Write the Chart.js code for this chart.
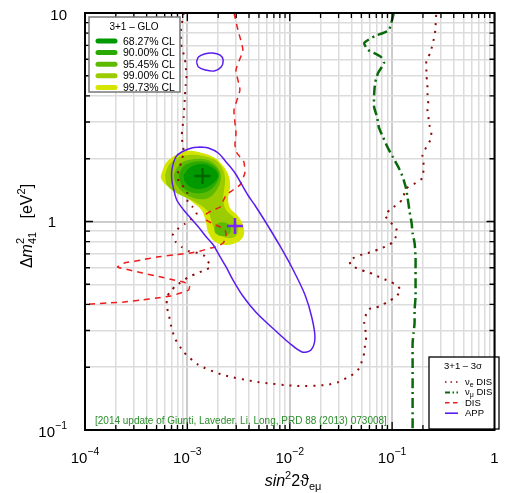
<!DOCTYPE html>
<html><head><meta charset="utf-8">
<script src="https://cdn.jsdelivr.net/npm/chart.js@4/dist/chart.umd.min.js"></script>
<style>html,body{margin:0;padding:0;background:#fff;overflow:hidden}</style>
</head><body>
<canvas id="c" width="505" height="493"></canvas>
<script>
// ---------------- DATA (sin^2 2theta, Delta m^2_41) ----------------
const xTickLabels = [[1e-4,'10','−4'],[1e-3,'10','−3'],[1e-2,'10','−2'],[1e-1,'10','−1'],[1,'1','']];
const yTickLabels = [[10,'10',''],[1,'1',''],[0.1,'10','−1']];

const glo6827 = [[9.20e-4,1.671],[1.075e-3,1.826],[1.435e-3,1.887],[1.831e-3,1.786],[2.001e-3,1.653],[1.752e-3,1.513],[1.372e-3,1.432],[1.075e-3,1.464],[9.41e-4,1.564],[9.20e-4,1.671]];
const glo9000 = [[8.235e-4,1.671],[9.20e-4,1.846],[1.149e-3,1.930],[1.500e-3,1.930],[1.872e-3,1.826],[2.046e-3,1.671],[1.872e-3,1.497],[1.533e-3,1.385],[1.149e-3,1.370],[9.20e-4,1.448],[8.419e-4,1.564],[8.235e-4,1.671]];
const glo9545 = [[7.371e-4,1.671],[8.235e-4,1.867],[1.028e-3,1.973],[1.435e-3,1.995],[1.791e-3,1.909],[2.092e-3,1.727],[2.092e-3,1.547],[1.872e-3,1.385],[1.603e-3,1.296],[1.283e-3,1.282],[9.835e-4,1.340],[8.235e-4,1.448],[7.536e-4,1.564],[7.371e-4,1.671]];
const glo9545b = [[1.831e-3,0.9307],[2.001e-3,0.9836],[2.389e-3,0.9836],[2.670e-3,0.9307],[2.554e-3,0.8711],[2.138e-3,0.8518],[1.872e-3,0.8808],[1.831e-3,0.9307]];
const glo9900 = [[6.035e-4,1.671],[6.596e-4,1.867],[7.876e-4,2.017],[1.028e-3,2.084],[1.435e-3,2.062],[1.872e-3,1.973],[2.187e-3,1.806],[2.337e-3,1.617],[2.286e-3,1.416],[2.236e-3,1.268],[2.389e-3,1.135],[2.854e-3,1.039],[3.119e-3,0.9307],[2.983e-3,0.8518],[2.498e-3,0.8334],[2.001e-3,0.8711],[1.752e-3,0.9728],[1.603e-3,1.110],[1.283e-3,1.213],[9.835e-4,1.296],[7.536e-4,1.385],[6.310e-4,1.497],[6.035e-4,1.671]];
const glo9973 = [[5.523e-4,1.671],[6.171e-4,1.909],[7.705e-4,2.084],[9.618e-4,2.178],[1.283e-3,2.154],[1.791e-3,2.039],[2.236e-3,1.846],[2.554e-3,1.635],[2.611e-3,1.448],[2.498e-3,1.296],[2.611e-3,1.161],[3.119e-3,1.063],[3.485e-3,0.9621],[3.563e-3,0.8615],[3.119e-3,0.7975],[2.389e-3,0.7715],[1.872e-3,0.7975],[1.603e-3,0.8808],[1.500e-3,1.017],[1.372e-3,1.135],[1.149e-3,1.227],[9.20e-4,1.325],[7.371e-4,1.416],[6.035e-4,1.513],[5.523e-4,1.617],[5.523e-4,1.671]];

const appMain = [[1.342e-3,2.276],[1.603e-3,2.251],[2.001e-3,2.131],[2.389e-3,1.930],[2.918e-3,1.709],[3.334e-3,1.530],[3.894e-3,1.340],[4.549e-3,1.200],[5.806e-3,0.9945],[7.922e-3,0.7715],[1.081e-2,0.5854],[1.411e-2,0.4442],[1.648e-2,0.3445],[1.762e-2,0.2762],[1.612e-2,0.2419],[1.320e-2,0.2367],[9.89e-3,0.2614],[6.782e-3,0.3086],[4.651e-3,0.3681],[3.485e-3,0.4393],[2.792e-3,0.5241],[2.389e-3,0.6051],[2.092e-3,0.6757],[1.791e-3,0.7715],[1.533e-3,0.8427],[1.283e-3,0.9411],[1.075e-3,1.039],[9.202e-4,1.135],[7.876e-4,1.268],[7.371e-4,1.416],[7.051e-4,1.581],[7.051e-4,1.766],[7.705e-4,2.039],[8.802e-4,2.154],[1.099e-3,2.251],[1.342e-3,2.276]];
const appSmall = [[1.228e-3,5.821],[1.283e-3,6.151],[1.467e-3,6.358],[1.752e-3,6.429],[2.092e-3,6.288],[2.236e-3,5.951],[2.138e-3,5.508],[1.831e-3,5.271],[1.500e-3,5.329],[1.283e-3,5.508],[1.228e-3,5.821]];

const disAll = [[2.854e-3,10],[3.119e-3,8.288],[3.485e-3,6.646],[2.983e-3,5.329],[3.260e-3,4.272],[2.854e-3,3.425],[2.983e-3,2.657],[2.918e-3,2.327],[3.050e-3,2.131],[3.563e-3,1.930],[3.643e-3,1.709],[3.260e-3,1.497],[2.792e-3,1.416],[2.389e-3,1.340],[2.236e-3,1.254],[2.092e-3,1.174],[1.791e-3,1.135],[1.533e-3,1.086],[1.533e-3,1.017],[1.791e-3,0.9728],[2.092e-3,0.9411],[2.337e-3,0.9104],[2.389e-3,0.8427],[2.236e-3,0.7887],[1.914e-3,0.7546],[1.676e-3,0.7463],[1.342e-3,0.7220],[1.075e-3,0.7062],[7.371e-4,0.6908],[5.054e-4,0.6757],[3.543e-4,0.6537],[2.430e-4,0.6324],[2.080e-4,0.6051],[2.715e-4,0.5854],[3.623e-4,0.5663],[5.523e-4,0.5418],[7.371e-4,0.5241],[9.202e-4,0.5126],[1.051e-3,0.4905],[1.028e-3,0.4693],[8.608e-4,0.4541],[6.897e-4,0.4393],[5.054e-4,0.4297],[3.543e-4,0.4203],[2.430e-4,0.4111],[1.666e-4,0.4066],[1.168e-4,0.4021],[1e-4,0.4021]];

const nueDis = [[9.202e-4,10],[8.802e-4,8.759],[8.608e-4,8.018],[8.802e-4,6.795],[9.408e-4,6.151],[9.618e-4,5.508],[9.835e-4,5.044],[9.618e-4,4.515],[9.408e-4,3.826],[9.202e-4,3.171],[8.802e-4,2.571],[8.999e-4,2.353],[9.202e-4,2.154],[8.802e-4,1.973],[8.419e-4,1.826],[8.054e-4,1.690],[8.235e-4,1.547],[9.408e-4,1.448],[1.006e-3,1.355],[1.006e-3,1.240],[1.124e-3,1.174],[1.228e-3,1.086],[9.408e-4,0.9728],[8.054e-4,0.9205],[7.209e-4,0.8615],[7.705e-4,0.7975],[8.802e-4,0.7546],[1.028e-3,0.7220],[1.255e-3,0.7062],[1.467e-3,0.6832],[1.676e-3,0.6051],[1.403e-3,0.5790],[1.201e-3,0.5601],[1.028e-3,0.5418],[7.705e-4,0.4905],[6.744e-4,0.4591],[6.310e-4,0.4297],[6.310e-4,0.3890],[6.596e-4,0.3561],[6.897e-4,0.3189],[7.536e-4,0.2762],[9.202e-4,0.2367],[1.283e-3,0.2050],[2.236e-3,0.1836],[4.862e-3,0.1699],[1.181e-2,0.1626],[2.298e-2,0.1644],[3.000e-2,0.1699],[3.584e-2,0.1776],[4.186e-2,0.1856],[4.782e-2,0.1983],[5.110e-2,0.2167],[5.342e-2,0.2341],[5.462e-2,0.2614],[5.585e-2,0.2793],[5.462e-2,0.3052],[5.342e-2,0.3296],[5.585e-2,0.3600],[5.969e-2,0.3805],[6.819e-2,0.3847],[7.967e-2,0.3977],[9.306e-2,0.4157],[1.087e-1,0.4345],[1.214e-1,0.4693],[1.087e-1,0.4959],[9.306e-2,0.5183],[7.792e-2,0.5358],[6.523e-2,0.5601],[5.585e-2,0.5726],[4.782e-2,0.5919],[4.004e-2,0.6118],[3.830e-2,0.6537],[4.473e-2,0.6757],[5.225e-2,0.6985],[6.380e-2,0.7141],[7.452e-2,0.7381],[8.903e-2,0.7630],[1.017e-1,0.7975],[1.111e-1,0.8711],[1.087e-1,0.9411],[9.513e-2,0.9945],[8.514e-2,1.074],[9.727e-2,1.148],[1.136e-1,1.213],[1.270e-1,1.282],[1.357e-1,1.432],[1.694e-1,1.530],[1.979e-1,1.617],[2.023e-1,1.766],[2.023e-1,1.930],[1.979e-1,2.084],[2.162e-1,2.276],[2.363e-1,2.460],[2.416e-1,2.687],[2.312e-1,2.903],[2.261e-1,3.171],[2.211e-1,3.463],[2.261e-1,3.826],[2.211e-1,4.133],[2.211e-1,4.616],[2.162e-1,4.988],[2.162e-1,5.447],[2.162e-1,5.951],[2.363e-1,6.429],[2.471e-1,7.025],[2.582e-1,7.671],[2.641e-1,8.288],[2.700e-1,10]];

const numuDis = [[1.040e-1,10],[9.306e-2,8.288],[8.144e-2,8.018],[6.819e-2,7.757],[5.342e-2,7.178],[5.838e-2,6.646],[6.972e-2,6.358],[7.792e-2,6.151],[8.328e-2,5.757],[7.289e-2,5.156],[6.819e-2,4.616],[6.669e-2,4.043],[6.669e-2,3.540],[7.128e-2,3.171],[7.452e-2,2.809],[8.144e-2,2.542],[9.101e-2,2.251],[1.017e-1,2.039],[1.161e-1,1.806],[1.270e-1,1.635],[1.357e-1,1.464],[1.418e-1,1.296],[1.483e-1,1.110],[1.550e-1,0.9836],[1.585e-1,0.8808],[1.657e-1,0.7887],[1.694e-1,0.6757],[1.694e-1,0.5854],[1.694e-1,0.5070],[1.694e-1,0.4345],[1.657e-1,0.3763],[1.657e-1,0.3260],[1.620e-1,0.2919],[1.585e-1,0.2614],[1.585e-1,0.2167],[1.585e-1,0.1555],[1.585e-1,0.1]];

const bestFitGlo = [[1.403e-3,1.653]];
const bestFitApp = [[2.918e-3,0.9515]];

// ---------------- STYLE ----------------
const C = {c6827:'#009a00', c9000:'#2aaa00', c9545:'#5cba00', c9900:'#9acc00', c9973:'#d4e600',
  nue:'#8b0a0a', numu:'#0a6a0a', dis:'#ee1c1c', app:'#5a1cf0', cite:'#2a8c2a'};
const FONT = '"Liberation Sans", Arial, Helvetica, sans-serif';

const toXY = a => a.map(p => ({x:p[0], y:p[1]}));
function fillSet(data, color, order){
  return {data:toXY(data), borderWidth:0, borderColor:color, backgroundColor:color, fill:'shape', pointRadius:0, tension:0.35, order};
}
function lineSet(data, color, width, dash, order, tension){
  return {data:toXY(data), borderWidth:width, borderColor:color, borderDash:dash, fill:false, pointRadius:0, tension:tension, order, borderCapStyle:'butt'};
}

const xGrid=[]; for(let e=-4;e<0;e++) for(let m=1;m<10;m++) xGrid.push(m*Math.pow(10,e)); xGrid.push(1);
const yGrid=[]; for(let e=-1;e<1;e++) for(let m=1;m<10;m++) yGrid.push(m*Math.pow(10,e)); yGrid.push(10);
const isMajor = v => Math.abs(Math.log10(v)-Math.round(Math.log10(v)))<1e-6;

function rich(ctx, parts, x, y, align){
  let w=0;
  for(const p of parts){ ctx.font=(p.i?'italic ':'')+p.s+'px '+FONT; p.w=ctx.measureText(p.t).width; if(!p.stack) w+=p.w; }
  let sx = align==='center'? x-w/2 : align==='right'? x-w : x;
  for(const p of parts){ ctx.font=(p.i?'italic ':'')+p.s+'px '+FONT; ctx.fillText(p.t, sx, y+(p.dy||0)); if(!p.stack) sx+=p.w; }
}

const decor = {
  id:'decor',
  afterDatasetsDraw(chart){
    const {ctx, chartArea:a, scales:{x, y}} = chart;
    ctx.save();
    ctx.strokeStyle='#000'; ctx.lineWidth=1.3;
    for(const v of xGrid){ const px=x.getPixelForValue(v); const L=isMajor(v)?8:5;
      ctx.beginPath(); ctx.moveTo(px,a.bottom); ctx.lineTo(px,a.bottom-L); ctx.moveTo(px,a.top); ctx.lineTo(px,a.top+L); ctx.stroke(); }
    for(const v of yGrid){ const py=y.getPixelForValue(v); const L=isMajor(v)?8:5;
      ctx.beginPath(); ctx.moveTo(a.left,py); ctx.lineTo(a.left+L,py); ctx.moveTo(a.right,py); ctx.lineTo(a.right-L,py); ctx.stroke(); }
    ctx.fillStyle=C.cite; ctx.textBaseline='alphabetic';
    ctx.font='10px '+FONT; ctx.textAlign='left';
    ctx.fillText('[2014 update of Giunti, Laveder, Li, Long, PRD 88 (2013) 073008]', 95, 424);
    ctx.fillStyle='#fff'; ctx.fillRect(89,17,91,75);
    ctx.strokeStyle='#777'; ctx.lineWidth=1.5; ctx.strokeRect(89,17,91,75);
    ctx.fillStyle='#000'; ctx.font='10px '+FONT; ctx.textAlign='center';
    ctx.fillText('3+1 – GLO', 134, 30);
    const l1 = [['68.27% CL',C.c6827],['90.00% CL',C.c9000],['95.45% CL',C.c9545],['99.00% CL',C.c9900],['99.73% CL',C.c9973]];
    l1.forEach((e,i)=>{ const yy=41+i*11.6;
      ctx.strokeStyle=e[1]; ctx.lineWidth=5; ctx.lineCap='round'; ctx.beginPath(); ctx.moveTo(98,yy); ctx.lineTo(115,yy); ctx.stroke();
      ctx.fillStyle='#000'; ctx.textAlign='left'; ctx.font='10.5px '+FONT; ctx.fillText(e[0],123,yy+3.5); });
    ctx.lineCap='butt';
    ctx.fillStyle='#fff'; ctx.fillRect(429,357,70,72);
    ctx.strokeStyle='#000'; ctx.lineWidth=1.3; ctx.strokeRect(429,357,70,72);
    ctx.fillStyle='#000'; ctx.textAlign='left';
    rich(ctx,[{t:'3+1 – 3σ',s:9.5}],463,369,'center');
    const l2 = [[C.nue,[1.5,4],1.6],[C.numu,[5,2.5,1.5,2.5],2],[C.dis,[4.5,3.5],1.5],[C.app,[],1.6]];
    l2.forEach((e,i)=>{ const yy=382+i*10.4;
      ctx.strokeStyle=e[0]; ctx.lineWidth=e[2]; ctx.setLineDash(e[1]); ctx.beginPath(); ctx.moveTo(445,yy); ctx.lineTo(458,yy); ctx.stroke(); ctx.setLineDash([]); });
    ctx.fillStyle='#000';
    rich(ctx,[{t:'ν',s:9.5},{t:'e',s:7,dy:2},{t:' DIS',s:9.5}],465,385,'left');
    rich(ctx,[{t:'ν',s:9.5},{t:'μ',s:7,dy:2},{t:' DIS',s:9.5}],465,395.4,'left');
    rich(ctx,[{t:'DIS',s:9.5}],465,405.8,'left');
    rich(ctx,[{t:'APP',s:9.5}],465,416.2,'left');
    ctx.restore();
  },
  afterDraw(chart){
    const {ctx, chartArea:a, scales:{x, y}} = chart;
    ctx.save();
    ctx.strokeStyle='#000'; ctx.lineWidth=2; ctx.strokeRect(a.left,a.top,a.right-a.left,a.bottom-a.top);
    ctx.fillStyle='#000'; ctx.textBaseline='alphabetic';
    for(const t of xTickLabels){ const px=x.getPixelForValue(t[0]);
      const parts=[{t:t[1],s:15}]; if(t[2]) parts.push({t:t[2],s:10.5,dy:-8});
      rich(ctx,parts,px,463,'center'); }
    rich(ctx,[{t:yTickLabels[0][1],s:15}],67,20,'right');
    rich(ctx,[{t:yTickLabels[1][1],s:15}],52,227,'center');
    rich(ctx,[{t:yTickLabels[2][1],s:15},{t:yTickLabels[2][2],s:10.5,dy:-8}],67,437,'right');
    rich(ctx,[{t:'sin',s:16,i:true},{t:'2',s:11,dy:-7},{t:'2ϑ',s:16},{t:'eμ',s:11,dy:4}],293,486,'center');
    ctx.translate(32,226); ctx.rotate(-Math.PI/2);
    rich(ctx,[{t:'Δ',s:16},{t:'m',s:16,i:true},{t:'2',s:11,dy:-8,stack:true},{t:'41',s:11,dy:4},{t:'   [eV',s:16},{t:'2',s:11,dy:-7},{t:']',s:16}],0,0,'center');
    ctx.restore();
  }
};

const datasets = [
  lineSet(appMain, C.app, 1.5, [], 1, 0.3),
  lineSet(appSmall, C.app, 1.5, [], 1, 0.3),
  lineSet(disAll, C.dis, 1.5, [6,5], 2, 0.15),
  lineSet(nueDis, C.nue, 2, [2,6], 3, 0.2),
  lineSet(numuDis, C.numu, 2.5, [10,4,2,4], 3, 0.2),
  {type:'scatter', data:toXY(bestFitGlo), pointStyle:'cross', pointRadius:8, borderWidth:2.5, borderColor:'#006600', backgroundColor:'#006600', order:0},
  {type:'scatter', data:toXY(bestFitApp), pointStyle:'cross', pointRadius:8, borderWidth:2.5, borderColor:'#7a22ff', backgroundColor:'#7a22ff', order:0},
  fillSet(glo6827, C.c6827, 10),
  fillSet(glo9000, C.c9000, 11),
  fillSet(glo9545, C.c9545, 12),
  fillSet(glo9545b, C.c9545, 12),
  fillSet(glo9900, C.c9900, 13),
  fillSet(glo9973, C.c9973, 14)
];

new Chart(document.getElementById('c'), {
  type:'line',
  data:{datasets},
  options:{
    responsive:false, animation:false, devicePixelRatio:1,
    layout:{padding:{left:85,right:5,top:13,bottom:63}},
    plugins:{legend:{display:false}, tooltip:{enabled:false}},
    scales:{
      x:{type:'logarithmic', min:1e-4, max:1, ticks:{display:false},
         afterBuildTicks:s=>{s.ticks=xGrid.map(v=>({value:v}));},
         grid:{drawTicks:false, color:c=>isMajor(c.tick.value)?'#cccccc':'#dcdcdc', lineWidth:c=>isMajor(c.tick.value)?2:1.5},
         border:{display:false}},
      y:{type:'logarithmic', min:0.1, max:10, ticks:{display:false},
         afterBuildTicks:s=>{s.ticks=yGrid.map(v=>({value:v}));},
         grid:{drawTicks:false, color:c=>isMajor(c.tick.value)?'#cccccc':'#dcdcdc', lineWidth:c=>isMajor(c.tick.value)?2:1.5},
         border:{display:false}}
    }
  },
  plugins:[decor]
});
</script>
</body></html>
